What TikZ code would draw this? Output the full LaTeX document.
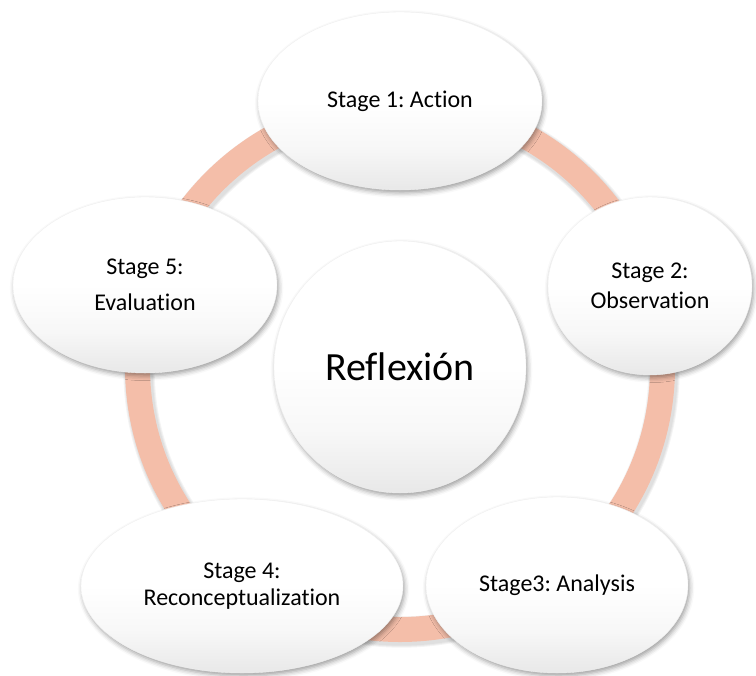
\documentclass[tikz,border=0pt]{standalone}
\usepackage{fontspec}
\setmainfont{Carlito}[Ligatures=NoCommon]
\usetikzlibrary{shapes.geometric,shadows.blur}

\definecolor{ringfill}{HTML}{F4BEA9}
\definecolor{txt}{HTML}{000000}

% white upper half, light grey towards the bottom
\pgfdeclareverticalshading{bubbleshade}{100bp}{%
  color(0bp)=(black!9); color(25bp)=(black!9); color(37bp)=(black!3);
  color(50bp)=(white); color(100bp)=(white)}

\tikzset{
  softshadow/.style={blur shadow={shadow xshift=1.2pt, shadow yshift=-2.2pt,
      shadow blur radius=3.5pt, shadow opacity=38}},
  bubble/.style={ellipse, inner sep=0pt, align=center, text=txt,
      draw=black!6, line width=0.3pt, shading=bubbleshade,
      softshadow,
      font=\fontsize{18}{20.25}\selectfont},
  hub/.style={bubble, circle, minimum size=189pt,
      font=\fontsize{30}{34}\selectfont},
  ring stroke/.style={draw=ringfill, line width=18.75pt},
  ring shade/.style={draw=black, line width=#1, opacity=0.045}
}

\begin{document}
\frenchspacing
\begin{tikzpicture}[x=0.75pt, y=-0.75pt]
  \useasboundingbox (0,0) rectangle (756,675);

  % ring joining the five stages, with a soft offset shadow
  \coordinate (c) at (400,367);
  \coordinate (cs) at (401.5,369.5);
  \foreach \w in {23.5pt,22pt,20.5pt}
    \draw[ring shade=\w] (cs) circle[radius=262.5];
  \draw[ring stroke] (c) circle[radius=262.5];

  % stages around the ring
  \node[bubble, minimum width=213pt, minimum height=133.5pt] (s1) at (400,101)
    {Stage 1: Action};
  \node[bubble, minimum width=153pt, minimum height=133.5pt] (s2) at (650,286)
    {Stage 2:\\[2.25pt]Observation};
  \node[bubble, minimum width=196.5pt, minimum height=132pt] (s3) at (557,585)
    {Stage3: Analysis};
  \node[bubble, minimum width=241.5pt, minimum height=130.5pt] (s4) at (242,586)
    {Stage 4:\\Reconceptualization};
  \node[bubble, minimum width=198pt, minimum height=132pt] (s5) at (145,285)
    {Stage 5:\\[6.75pt]Evaluation};

  % central circle
  \node[hub] (hub) at (c) {Reflexión};
\end{tikzpicture}
\end{document}
